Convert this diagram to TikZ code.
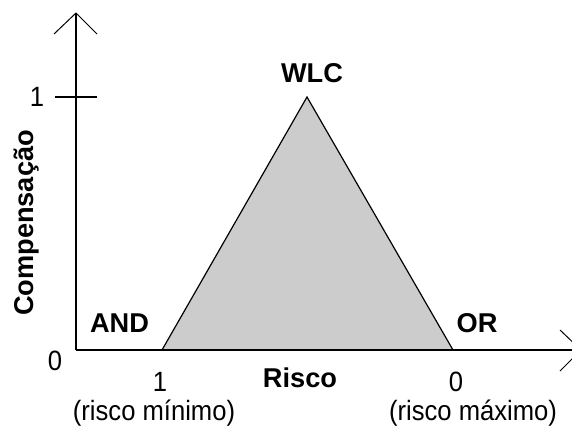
\documentclass[tikz,border=0pt]{standalone}
\usepackage{fontspec}
\usepackage{graphicx}
\setmainfont{Liberation Sans}
\definecolor{areafill}{RGB}{204,204,204}
% regular labels are set slightly taller than wide
\newcommand{\talltext}[1]{\scalebox{1}[1.09]{#1}}
\begin{document}
\begin{tikzpicture}[x=1pt,y=-1pt,
  axis/.style={line width=1.6pt},
  wing/.style={line width=1pt},
  lbl/.style={font=\fontsize{25.6}{30}\selectfont, inner sep=0pt},
  blbl/.style={inner sep=0pt, font=\fontsize{27.2}{32}\selectfont\bfseries}]
  \useasboundingbox (0,0) rectangle (572,432);
  \clip (0,0) rectangle (572,432);
  % axes
  \coordinate (o) at (76,350);
  \coordinate (ytip) at (76,13);
  \coordinate (xtip) at (581,350);
  \coordinate (yw1) at (54,34);
  \coordinate (yw2) at (97,34);
  \coordinate (xw1) at (560,330);
  \coordinate (xw2) at (560,371);
  \coordinate (t1) at (55,97);
  \coordinate (t2) at (97,97);
  % triangle corners
  \coordinate (a) at (162,350);
  \coordinate (b) at (307,97);
  \coordinate (c) at (453,350);
  \filldraw[fill=areafill, draw=black, line width=1.2pt, line join=miter] (a) -- (b) -- (c) -- cycle;
  \draw[axis] (o) -- (ytip);
  \draw[axis] (o) -- (xtip);
  \draw[wing] (yw1) -- (ytip) -- (yw2);
  \draw[wing] (xw1) -- (xtip) -- (xw2);
  \draw[line width=1.2pt] (t1) -- (t2);
  % labels
  \node[lbl] (one) at (37,97) {\talltext{1}};
  \node[lbl] (zero) at (55,361) {\talltext{0}};
  \node[blbl] (wlc) at (312,73) {WLC};
  \node[blbl] (and) at (119.5,323) {AND};
  \node[blbl] (or) at (477,323) {OR};
  \node[lbl] (x1) at (160,382) {\talltext{1}};
  \node[blbl] (risco) at (300,378) {Risco};
  \node[lbl] (x0) at (456,382) {\talltext{0}};
  \node[lbl] (rmin) at (154,413) {\talltext{(risco mínimo)}};
  \node[lbl] (rmax) at (473,413) {\talltext{(risco máximo)}};
  \node[blbl, rotate=90] (comp) at (27,223) {Compensação};
\end{tikzpicture}
\end{document}
